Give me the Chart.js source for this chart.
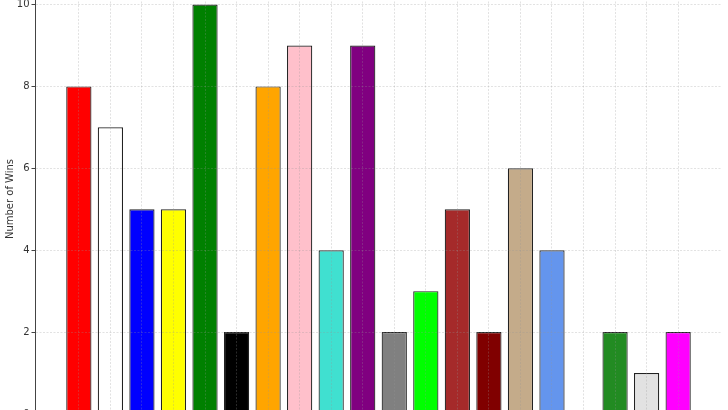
<!DOCTYPE html>
<html lang="en">
<head>
    <meta charset="UTF-8" />
    <title>Number of Wins</title>
    <script src="https://cdn.jsdelivr.net/npm/chart.js"></script>
    <style>
        html, body { margin: 0; padding: 0; background: #fff; overflow: hidden; }
        .chart-box { position: absolute; left: 0; top: -24px; width: 728px; height: 488px; }
    </style>
</head>
<body>
    <div class="chart-box">
        <canvas id="winsChart" width="728" height="488"></canvas>
    </div>
    <script>
        // data
        const teams = ['Red', 'White', 'Blue', 'Yellow', 'Green', 'Black', 'Orange', 'Pink', 'Turquoise', 'Purple',
                       'Gray', 'Lime', 'Brown', 'Maroon', 'Tan', 'Cornflower', 'Silver', 'Forest', 'Light Gray', 'Magenta'];
        const wins = [8, 7, 5, 5, 10, 2, 8, 9, 4, 9, 2, 3, 5, 2, 6, 4, 0, 2, 1, 2];
        const barColors = ['#ff0000', '#ffffff', '#0000ff', '#ffff00', '#008000', '#000000', '#ffa500', '#ffc0cb', '#40e0d0', '#800080',
                           '#808080', '#00ff00', '#a52a2a', '#800000', '#c4ab8a', '#6495ed', '#c0c0c0', '#228b22', '#e2e2e2', '#ff00ff'];
        const yTicks = [0, 2, 4, 6, 8, 10];

        // grid sits on top of the bars, like the original
        const gridStyle = {
            z: 1,
            offset: false,
            color: 'rgba(150,150,150,0.35)',
            lineWidth: 0.8,
            tickColor: '#444',
            tickLength: 3.5,
            tickWidth: 1,
            tickBorderDash: []
        };

        const ctx = document.getElementById('winsChart').getContext('2d');
        new Chart(ctx, {
            type: 'bar',
            data: {
                datasets: [{
                    label: 'Wins',
                    data: wins.map((w, i) => ({ x: i, y: w })),
                    backgroundColor: barColors,
                    borderColor: '#222',
                    borderWidth: 1.2,
                    borderSkipped: false,
                    barPercentage: 0.8,
                    categoryPercentage: 1.0
                }]
            },
            options: {
                responsive: false,
                animation: false,
                layout: { padding: { left: 0, right: 6, top: 0, bottom: 0 } },
                plugins: {
                    legend: { display: false },
                    tooltip: { enabled: false }
                },
                scales: {
                    x: {
                        type: 'linear',
                        offset: false,
                        min: -1.39,
                        max: teams.length - 1 + 1.39,
                        afterBuildTicks: scale => { scale.ticks = teams.map((t, i) => ({ value: i })); },
                        afterFit: scale => { scale.height = 50; },
                        ticks: { display: false },
                        grid: gridStyle,
                        border: { display: false, z: 2, dash: [2, 1.5] }
                    },
                    y: {
                        min: 0,
                        max: 10.5,
                        afterBuildTicks: scale => { scale.ticks = yTicks.map(v => ({ value: v })); },
                        afterFit: scale => { scale.width = 35; },
                        ticks: {
                            padding: 2,
                            color: '#333',
                            font: { family: 'DejaVu Sans', size: 10 }
                        },
                        grid: gridStyle,
                        border: { display: true, z: 2, color: '#444', width: 1, dash: [2, 1.5] },
                        title: {
                            display: true,
                            text: 'Number of Wins',
                            color: '#333',
                            font: { family: 'DejaVu Sans', size: 10 },
                            padding: { top: 4, bottom: 4 }
                        }
                    }
                }
            }
        });
    </script>
</body>
</html>
